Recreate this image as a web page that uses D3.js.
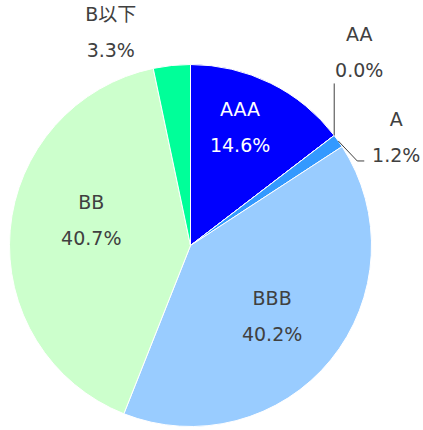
<!DOCTYPE html>
<html>
<head>
<meta charset="utf-8">
<script src="https://cdn.jsdelivr.net/npm/d3@7"></script>
<style>
  body { margin: 0; background: #fff; }
</style>
</head>
<body>
<svg id="chart" width="423" height="430"></svg>
<script>
// Rating categories and their share (%)
const categories = ['AAA', 'AA', 'A', 'BBB', 'BB', 'B以下'];
const shares = [14.6, 0.0, 1.2, 40.2, 40.7, 3.3];
const colors = ['#0000ff', '#0066ff', '#3399ff', '#99ccff', '#ccffcc', '#00ff99'];

// Layout
const cx = 190.5, cy = 245.5, radius = 181;
const fontFamily = '"DejaVu Sans", "Noto Sans CJK JP", sans-serif';
const svg = d3.select('#chart');
const g = svg.append('g').attr('transform', `translate(${cx},${cy})`);

const pie = d3.pie().sort(null).value((d) => d.value);
const arcs = pie(categories.map((c, i) => ({ name: c, value: shares[i], color: colors[i] })));

const arc = d3.arc().innerRadius(0).outerRadius(radius);
const edgeArc = d3.arc().innerRadius(radius).outerRadius(radius);
const midArc = d3.arc().innerRadius(radius * 0.6).outerRadius(radius * 0.6);

// slices
g.selectAll('path.slice')
  .data(arcs)
  .enter()
  .append('path')
  .attr('class', 'slice')
  .attr('d', arc)
  .attr('fill', (d) => d.data.color)
  .attr('stroke', '#fff')
  .attr('stroke-width', 1);

// label nudges (Excel "best fit" placement), relative to the anchor point
const inside = { AAA: [1.5, -21], BBB: [-2.5, 1.5], BB: [9, -16] };
const outside = { AA: [25, -83], A: [58, -3.5], 'B以下': [-61, -33] };

function labelCenter(d) {
  const name = d.data.name;
  if (inside[name]) {
    const p = midArc.centroid(d);
    return [p[0] + inside[name][0], p[1] + inside[name][1]];
  }
  const p = edgeArc.centroid(d);
  return [p[0] + outside[name][0], p[1] + outside[name][1]];
}

// leader lines for the thin slices
const aa = arcs.find((d) => d.data.name === 'AA');
const aaEdge = edgeArc.centroid(aa);
g.append('path')
  .attr('d', d3.line()([aaEdge, [aaEdge[0], aaEdge[1] - 52]]))
  .attr('fill', 'none')
  .attr('stroke', '#404040')
  .attr('stroke-width', 1);

const a = arcs.find((d) => d.data.name === 'A');
const aEdge = edgeArc.centroid(a);
g.append('path')
  .attr('d', d3.line()([aEdge, [aEdge[0] + 19, aEdge[1] + 20], [aEdge[0] + 26, aEdge[1] + 20]]))
  .attr('fill', 'none')
  .attr('stroke', '#404040')
  .attr('stroke-width', 1);

// labels
const labels = g.selectAll('g.label')
  .data(arcs)
  .enter()
  .append('g')
  .attr('class', 'label')
  .attr('transform', (d) => `translate(${labelCenter(d)})`);

const textColor = (d) => (d.data.name === 'AAA' ? '#ffffff' : '#404040');

labels.append('text')
  .attr('text-anchor', 'middle')
  .attr('y', -11)
  .attr('font-family', fontFamily)
  .attr('font-size', 19)
  .attr('fill', textColor)
  .text((d) => d.data.name);

labels.append('text')
  .attr('text-anchor', 'middle')
  .attr('y', 25)
  .attr('font-family', fontFamily)
  .attr('font-size', 19)
  .attr('fill', textColor)
  .text((d) => d.data.value.toFixed(1) + '%');
</script>
</body>
</html>
